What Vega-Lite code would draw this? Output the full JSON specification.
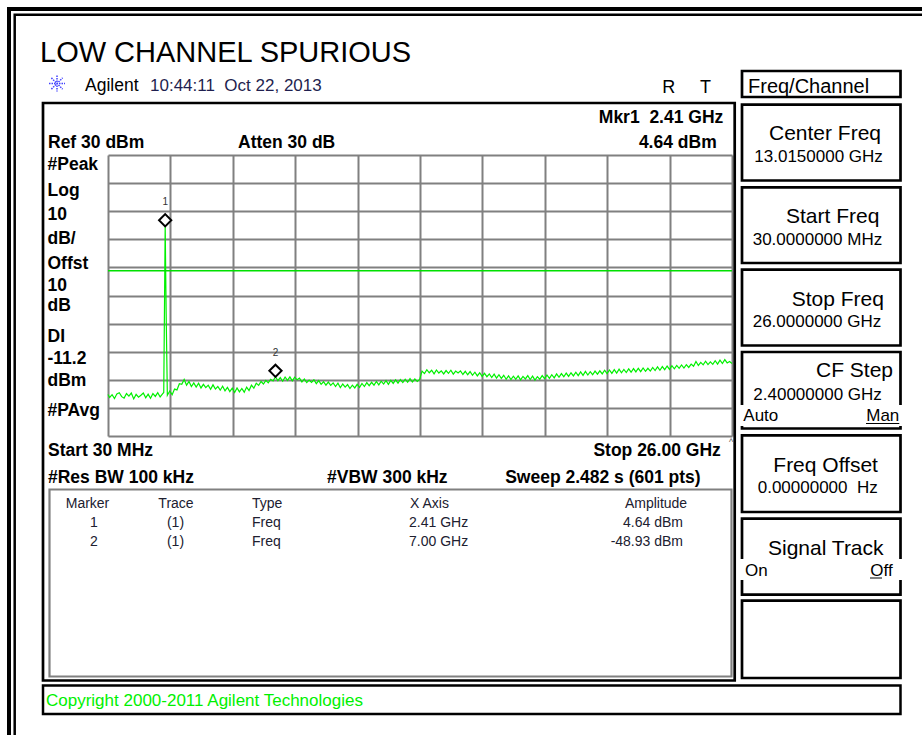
{
  "$schema": "https://vega.github.io/schema/vega-lite/v6.json",
  "width": 624,
  "height": 281,
  "autosize": {"type": "none"},
  "padding": {"left": 108, "top": 155, "right": 190, "bottom": 299},
  "background": "white",
  "config": {
    "font": "Liberation Sans",
    "view": {"stroke": null},
    "text": {"baseline": "alphabetic", "align": "left", "fontSize": 17, "color": "#000000", "font": "Liberation Sans"}
  },
  "datasets": {
    "trace": [
      {"freq_ghz": 0.03, "amp_dbm": -55.2}, {"freq_ghz": 0.1, "amp_dbm": -56.3}, {"freq_ghz": 0.2, "amp_dbm": -55.3}, {"freq_ghz": 0.3, "amp_dbm": -56.7},
      {"freq_ghz": 0.4, "amp_dbm": -55.0}, {"freq_ghz": 0.5, "amp_dbm": -54.6}, {"freq_ghz": 0.6, "amp_dbm": -56.0}, {"freq_ghz": 0.7, "amp_dbm": -56.5},
      {"freq_ghz": 0.8, "amp_dbm": -54.9}, {"freq_ghz": 0.9, "amp_dbm": -55.8}, {"freq_ghz": 1.0, "amp_dbm": -54.7}, {"freq_ghz": 1.1, "amp_dbm": -56.8},
      {"freq_ghz": 1.2, "amp_dbm": -55.2}, {"freq_ghz": 1.3, "amp_dbm": -56.2}, {"freq_ghz": 1.4, "amp_dbm": -55.5}, {"freq_ghz": 1.5, "amp_dbm": -54.7},
      {"freq_ghz": 1.6, "amp_dbm": -56.4}, {"freq_ghz": 1.7, "amp_dbm": -55.1}, {"freq_ghz": 1.8, "amp_dbm": -56.6}, {"freq_ghz": 1.9, "amp_dbm": -54.9},
      {"freq_ghz": 2.0, "amp_dbm": -55.9}, {"freq_ghz": 2.1, "amp_dbm": -54.6}, {"freq_ghz": 2.2, "amp_dbm": -56.1}, {"freq_ghz": 2.3, "amp_dbm": -55.0},
      {"freq_ghz": 2.35, "amp_dbm": -54.5}, {"freq_ghz": 2.41, "amp_dbm": 4.64}, {"freq_ghz": 2.45, "amp_dbm": -26.2}, {"freq_ghz": 2.5, "amp_dbm": -55.5},
      {"freq_ghz": 2.6, "amp_dbm": -54.0}, {"freq_ghz": 2.7, "amp_dbm": -55.3}, {"freq_ghz": 2.8, "amp_dbm": -53.3}, {"freq_ghz": 2.9, "amp_dbm": -53.6},
      {"freq_ghz": 3.0, "amp_dbm": -51.4}, {"freq_ghz": 3.1, "amp_dbm": -51.6}, {"freq_ghz": 3.2, "amp_dbm": -49.9}, {"freq_ghz": 3.3, "amp_dbm": -51.9},
      {"freq_ghz": 3.4, "amp_dbm": -50.6}, {"freq_ghz": 3.5, "amp_dbm": -52.4}, {"freq_ghz": 3.6, "amp_dbm": -51.1}, {"freq_ghz": 3.7, "amp_dbm": -52.6},
      {"freq_ghz": 3.8, "amp_dbm": -51.2}, {"freq_ghz": 3.9, "amp_dbm": -52.9}, {"freq_ghz": 4.0, "amp_dbm": -51.6}, {"freq_ghz": 4.1, "amp_dbm": -52.8},
      {"freq_ghz": 4.2, "amp_dbm": -51.9}, {"freq_ghz": 4.3, "amp_dbm": -53.4}, {"freq_ghz": 4.4, "amp_dbm": -51.8}, {"freq_ghz": 4.5, "amp_dbm": -53.3},
      {"freq_ghz": 4.6, "amp_dbm": -52.4}, {"freq_ghz": 4.7, "amp_dbm": -53.7}, {"freq_ghz": 4.8, "amp_dbm": -52.3}, {"freq_ghz": 4.9, "amp_dbm": -53.9},
      {"freq_ghz": 5.0, "amp_dbm": -52.7}, {"freq_ghz": 5.1, "amp_dbm": -54.2}, {"freq_ghz": 5.2, "amp_dbm": -53.0}, {"freq_ghz": 5.3, "amp_dbm": -54.5},
      {"freq_ghz": 5.4, "amp_dbm": -52.9}, {"freq_ghz": 5.5, "amp_dbm": -54.3}, {"freq_ghz": 5.6, "amp_dbm": -53.1}, {"freq_ghz": 5.7, "amp_dbm": -54.4},
      {"freq_ghz": 5.8, "amp_dbm": -52.6}, {"freq_ghz": 5.9, "amp_dbm": -53.8}, {"freq_ghz": 6.0, "amp_dbm": -51.9}, {"freq_ghz": 6.1, "amp_dbm": -53.0},
      {"freq_ghz": 6.2, "amp_dbm": -51.2}, {"freq_ghz": 6.3, "amp_dbm": -52.0}, {"freq_ghz": 6.4, "amp_dbm": -50.6}, {"freq_ghz": 6.5, "amp_dbm": -51.5},
      {"freq_ghz": 6.6, "amp_dbm": -50.2}, {"freq_ghz": 6.7, "amp_dbm": -51.1}, {"freq_ghz": 6.8, "amp_dbm": -49.8}, {"freq_ghz": 6.9, "amp_dbm": -50.4},
      {"freq_ghz": 7.0, "amp_dbm": -48.93}, {"freq_ghz": 7.1, "amp_dbm": -50.3}, {"freq_ghz": 7.2, "amp_dbm": -49.2}, {"freq_ghz": 7.3, "amp_dbm": -50.5},
      {"freq_ghz": 7.4, "amp_dbm": -49.0}, {"freq_ghz": 7.5, "amp_dbm": -50.2}, {"freq_ghz": 7.6, "amp_dbm": -48.95}, {"freq_ghz": 7.7, "amp_dbm": -50.4},
      {"freq_ghz": 7.8, "amp_dbm": -49.1}, {"freq_ghz": 7.9, "amp_dbm": -50.0}, {"freq_ghz": 8.0, "amp_dbm": -49.4}, {"freq_ghz": 8.1, "amp_dbm": -50.8},
      {"freq_ghz": 8.2, "amp_dbm": -49.7}, {"freq_ghz": 8.3, "amp_dbm": -51.0}, {"freq_ghz": 8.4, "amp_dbm": -50.1}, {"freq_ghz": 8.5, "amp_dbm": -50.9},
      {"freq_ghz": 8.6, "amp_dbm": -50.0}, {"freq_ghz": 8.7, "amp_dbm": -51.4}, {"freq_ghz": 8.8, "amp_dbm": -50.3}, {"freq_ghz": 8.9, "amp_dbm": -51.6},
      {"freq_ghz": 9.0, "amp_dbm": -50.7}, {"freq_ghz": 9.1, "amp_dbm": -51.9}, {"freq_ghz": 9.2, "amp_dbm": -50.8}, {"freq_ghz": 9.3, "amp_dbm": -52.0},
      {"freq_ghz": 9.4, "amp_dbm": -51.1}, {"freq_ghz": 9.5, "amp_dbm": -52.4}, {"freq_ghz": 9.6, "amp_dbm": -51.2}, {"freq_ghz": 9.7, "amp_dbm": -52.8},
      {"freq_ghz": 9.8, "amp_dbm": -51.5}, {"freq_ghz": 9.9, "amp_dbm": -52.6}, {"freq_ghz": 10.0, "amp_dbm": -51.7}, {"freq_ghz": 10.1, "amp_dbm": -53.1},
      {"freq_ghz": 10.2, "amp_dbm": -51.9}, {"freq_ghz": 10.3, "amp_dbm": -52.9}, {"freq_ghz": 10.4, "amp_dbm": -51.6}, {"freq_ghz": 10.5, "amp_dbm": -52.7},
      {"freq_ghz": 10.6, "amp_dbm": -51.3}, {"freq_ghz": 10.7, "amp_dbm": -52.4}, {"freq_ghz": 10.8, "amp_dbm": -51.0}, {"freq_ghz": 10.9, "amp_dbm": -52.1},
      {"freq_ghz": 11.0, "amp_dbm": -50.9}, {"freq_ghz": 11.1, "amp_dbm": -51.9}, {"freq_ghz": 11.2, "amp_dbm": -50.6}, {"freq_ghz": 11.3, "amp_dbm": -51.8},
      {"freq_ghz": 11.4, "amp_dbm": -50.5}, {"freq_ghz": 11.5, "amp_dbm": -51.5}, {"freq_ghz": 11.6, "amp_dbm": -50.3}, {"freq_ghz": 11.7, "amp_dbm": -51.6},
      {"freq_ghz": 11.8, "amp_dbm": -50.2}, {"freq_ghz": 11.9, "amp_dbm": -51.3}, {"freq_ghz": 12.0, "amp_dbm": -50.0}, {"freq_ghz": 12.1, "amp_dbm": -51.2},
      {"freq_ghz": 12.2, "amp_dbm": -49.9}, {"freq_ghz": 12.3, "amp_dbm": -51.0}, {"freq_ghz": 12.4, "amp_dbm": -49.8}, {"freq_ghz": 12.5, "amp_dbm": -50.9},
      {"freq_ghz": 12.6, "amp_dbm": -49.6}, {"freq_ghz": 12.7, "amp_dbm": -50.8}, {"freq_ghz": 12.8, "amp_dbm": -49.7}, {"freq_ghz": 12.9, "amp_dbm": -50.6},
      {"freq_ghz": 13.0, "amp_dbm": -49.9}, {"freq_ghz": 13.1, "amp_dbm": -46.9}, {"freq_ghz": 13.2, "amp_dbm": -47.8}, {"freq_ghz": 13.3, "amp_dbm": -46.4},
      {"freq_ghz": 13.4, "amp_dbm": -47.5}, {"freq_ghz": 13.5, "amp_dbm": -46.6}, {"freq_ghz": 13.6, "amp_dbm": -47.9}, {"freq_ghz": 13.7, "amp_dbm": -46.5},
      {"freq_ghz": 13.8, "amp_dbm": -47.6}, {"freq_ghz": 13.9, "amp_dbm": -46.8}, {"freq_ghz": 14.0, "amp_dbm": -47.9}, {"freq_ghz": 14.1, "amp_dbm": -46.7},
      {"freq_ghz": 14.2, "amp_dbm": -47.7}, {"freq_ghz": 14.3, "amp_dbm": -46.6}, {"freq_ghz": 14.4, "amp_dbm": -48.0}, {"freq_ghz": 14.5, "amp_dbm": -46.9},
      {"freq_ghz": 14.6, "amp_dbm": -47.6}, {"freq_ghz": 14.7, "amp_dbm": -46.8}, {"freq_ghz": 14.8, "amp_dbm": -48.1}, {"freq_ghz": 14.9, "amp_dbm": -47.0},
      {"freq_ghz": 15.0, "amp_dbm": -48.2}, {"freq_ghz": 15.1, "amp_dbm": -47.1}, {"freq_ghz": 15.2, "amp_dbm": -48.4}, {"freq_ghz": 15.3, "amp_dbm": -47.3},
      {"freq_ghz": 15.4, "amp_dbm": -48.6}, {"freq_ghz": 15.5, "amp_dbm": -47.5}, {"freq_ghz": 15.6, "amp_dbm": -48.8}, {"freq_ghz": 15.7, "amp_dbm": -47.7},
      {"freq_ghz": 15.8, "amp_dbm": -48.9}, {"freq_ghz": 15.9, "amp_dbm": -47.9}, {"freq_ghz": 16.0, "amp_dbm": -49.2}, {"freq_ghz": 16.1, "amp_dbm": -48.0},
      {"freq_ghz": 16.2, "amp_dbm": -49.4}, {"freq_ghz": 16.3, "amp_dbm": -48.2}, {"freq_ghz": 16.4, "amp_dbm": -49.5}, {"freq_ghz": 16.5, "amp_dbm": -48.4},
      {"freq_ghz": 16.6, "amp_dbm": -49.8}, {"freq_ghz": 16.7, "amp_dbm": -48.6}, {"freq_ghz": 16.8, "amp_dbm": -49.9}, {"freq_ghz": 16.9, "amp_dbm": -48.7},
      {"freq_ghz": 17.0, "amp_dbm": -49.8}, {"freq_ghz": 17.1, "amp_dbm": -48.6}, {"freq_ghz": 17.2, "amp_dbm": -50.0}, {"freq_ghz": 17.3, "amp_dbm": -48.8},
      {"freq_ghz": 17.4, "amp_dbm": -49.7}, {"freq_ghz": 17.5, "amp_dbm": -48.5}, {"freq_ghz": 17.6, "amp_dbm": -49.9}, {"freq_ghz": 17.7, "amp_dbm": -48.7},
      {"freq_ghz": 17.8, "amp_dbm": -50.1}, {"freq_ghz": 17.9, "amp_dbm": -48.9}, {"freq_ghz": 18.0, "amp_dbm": -49.8}, {"freq_ghz": 18.1, "amp_dbm": -48.5},
      {"freq_ghz": 18.2, "amp_dbm": -49.6}, {"freq_ghz": 18.3, "amp_dbm": -48.3}, {"freq_ghz": 18.4, "amp_dbm": -49.5}, {"freq_ghz": 18.5, "amp_dbm": -48.2},
      {"freq_ghz": 18.6, "amp_dbm": -49.3}, {"freq_ghz": 18.7, "amp_dbm": -47.9}, {"freq_ghz": 18.8, "amp_dbm": -49.1}, {"freq_ghz": 18.9, "amp_dbm": -47.8},
      {"freq_ghz": 19.0, "amp_dbm": -48.9}, {"freq_ghz": 19.1, "amp_dbm": -47.6}, {"freq_ghz": 19.2, "amp_dbm": -48.8}, {"freq_ghz": 19.3, "amp_dbm": -47.5},
      {"freq_ghz": 19.4, "amp_dbm": -48.6}, {"freq_ghz": 19.5, "amp_dbm": -47.3}, {"freq_ghz": 19.6, "amp_dbm": -48.5}, {"freq_ghz": 19.7, "amp_dbm": -47.2},
      {"freq_ghz": 19.8, "amp_dbm": -48.4}, {"freq_ghz": 19.9, "amp_dbm": -47.0}, {"freq_ghz": 20.0, "amp_dbm": -48.3}, {"freq_ghz": 20.1, "amp_dbm": -47.1},
      {"freq_ghz": 20.2, "amp_dbm": -48.2}, {"freq_ghz": 20.3, "amp_dbm": -46.9}, {"freq_ghz": 20.4, "amp_dbm": -48.0}, {"freq_ghz": 20.5, "amp_dbm": -46.8},
      {"freq_ghz": 20.6, "amp_dbm": -47.9}, {"freq_ghz": 20.7, "amp_dbm": -46.6}, {"freq_ghz": 20.8, "amp_dbm": -47.8}, {"freq_ghz": 20.9, "amp_dbm": -46.5},
      {"freq_ghz": 21.0, "amp_dbm": -47.7}, {"freq_ghz": 21.1, "amp_dbm": -46.4}, {"freq_ghz": 21.2, "amp_dbm": -47.6}, {"freq_ghz": 21.3, "amp_dbm": -46.2},
      {"freq_ghz": 21.4, "amp_dbm": -47.5}, {"freq_ghz": 21.5, "amp_dbm": -46.3}, {"freq_ghz": 21.6, "amp_dbm": -47.4}, {"freq_ghz": 21.7, "amp_dbm": -46.1},
      {"freq_ghz": 21.8, "amp_dbm": -47.3}, {"freq_ghz": 21.9, "amp_dbm": -46.0}, {"freq_ghz": 22.0, "amp_dbm": -47.2}, {"freq_ghz": 22.1, "amp_dbm": -45.9},
      {"freq_ghz": 22.2, "amp_dbm": -47.1}, {"freq_ghz": 22.3, "amp_dbm": -45.8}, {"freq_ghz": 22.4, "amp_dbm": -47.0}, {"freq_ghz": 22.5, "amp_dbm": -45.9},
      {"freq_ghz": 22.6, "amp_dbm": -46.9}, {"freq_ghz": 22.7, "amp_dbm": -45.6}, {"freq_ghz": 22.8, "amp_dbm": -46.7}, {"freq_ghz": 22.9, "amp_dbm": -45.4},
      {"freq_ghz": 23.0, "amp_dbm": -46.6}, {"freq_ghz": 23.1, "amp_dbm": -45.3}, {"freq_ghz": 23.2, "amp_dbm": -46.4}, {"freq_ghz": 23.3, "amp_dbm": -45.1},
      {"freq_ghz": 23.4, "amp_dbm": -46.3}, {"freq_ghz": 23.5, "amp_dbm": -45.0}, {"freq_ghz": 23.6, "amp_dbm": -46.1}, {"freq_ghz": 23.7, "amp_dbm": -44.9},
      {"freq_ghz": 23.8, "amp_dbm": -45.9}, {"freq_ghz": 23.9, "amp_dbm": -44.7}, {"freq_ghz": 24.0, "amp_dbm": -45.8}, {"freq_ghz": 24.1, "amp_dbm": -44.6},
      {"freq_ghz": 24.2, "amp_dbm": -45.6}, {"freq_ghz": 24.3, "amp_dbm": -44.4}, {"freq_ghz": 24.4, "amp_dbm": -45.2}, {"freq_ghz": 24.5, "amp_dbm": -43.5},
      {"freq_ghz": 24.6, "amp_dbm": -44.9}, {"freq_ghz": 24.7, "amp_dbm": -43.8}, {"freq_ghz": 24.8, "amp_dbm": -44.7}, {"freq_ghz": 24.9, "amp_dbm": -43.4},
      {"freq_ghz": 25.0, "amp_dbm": -44.6}, {"freq_ghz": 25.1, "amp_dbm": -43.6}, {"freq_ghz": 25.2, "amp_dbm": -44.5}, {"freq_ghz": 25.3, "amp_dbm": -43.2},
      {"freq_ghz": 25.4, "amp_dbm": -44.4}, {"freq_ghz": 25.5, "amp_dbm": -43.0}, {"freq_ghz": 25.6, "amp_dbm": -44.2}, {"freq_ghz": 25.7, "amp_dbm": -42.8},
      {"freq_ghz": 25.8, "amp_dbm": -44.0}, {"freq_ghz": 25.9, "amp_dbm": -43.5}, {"freq_ghz": 26.0, "amp_dbm": -44.2}
    ],
    "markers": [
      {"marker": 1, "trace": "(1)", "type": "Freq", "freq_ghz": 2.41, "amp_dbm": 4.64, "x_axis": "2.41 GHz", "amplitude": "4.64 dBm"},
      {"marker": 2, "trace": "(1)", "type": "Freq", "freq_ghz": 7.0, "amp_dbm": -48.93, "x_axis": "7.00 GHz", "amplitude": "-48.93 dBm"}
    ],
    "display": [{"display_line_dbm": -11.2}]
  },
  "data": {"values": [{}]},
  "layer": [
    {"mark": {"type": "rect", "fill": "transparent", "stroke": "#000000", "strokeWidth": 4}, "encoding": {"x": {"datum": -4.0902}, "x2": {"datum": 34.6567}, "y": {"datum": 81.957}, "y2": {"datum": -185.303}}},
    {"mark": {"type": "rect", "fill": "transparent", "stroke": "#000000", "strokeWidth": 2.5}, "encoding": {"x": {"datum": -3.853}, "x2": {"datum": 34.6567}, "y": {"datum": 79.929}, "y2": {"datum": -185.303}}},
    {"mark": {"type": "rect", "fill": "transparent", "stroke": "#000000", "strokeWidth": 2.7}, "encoding": {"x": {"datum": 26.4162}, "x2": {"datum": 33.0127}, "y": {"datum": 59.893}, "y2": {"datum": 50.641}}},
    {"mark": {"type": "rect", "fill": "transparent", "stroke": "#000000", "strokeWidth": 2.7}, "encoding": {"x": {"datum": -2.6752}, "x2": {"datum": 26.1124}, "y": {"datum": 48.505}, "y2": {"datum": -157.011}}},
    {"mark": {"type": "rect", "fill": "transparent", "stroke": "#808080", "strokeWidth": 2.2}, "encoding": {"x": {"datum": -2.4047}, "x2": {"datum": 25.9792}, "y": {"datum": -89.039}, "y2": {"datum": -155.587}}},
    {"mark": {"type": "rect", "fill": "transparent", "stroke": "#000000", "strokeWidth": 2.7}, "encoding": {"x": {"datum": 26.4162}, "x2": {"datum": 33.0127}, "y": {"datum": 47.9}, "y2": {"datum": 20.925}}},
    {"mark": {"type": "rect", "fill": "transparent", "stroke": "#000000", "strokeWidth": 2.7}, "encoding": {"x": {"datum": 26.4162}, "x2": {"datum": 33.0127}, "y": {"datum": 18.505}, "y2": {"datum": -8.434}}},
    {"mark": {"type": "rect", "fill": "transparent", "stroke": "#000000", "strokeWidth": 2.7}, "encoding": {"x": {"datum": 26.4162}, "x2": {"datum": 33.0127}, "y": {"datum": -10.819}, "y2": {"datum": -37.794}}},
    {"mark": {"type": "rect", "fill": "transparent", "stroke": "#000000", "strokeWidth": 2.7}, "encoding": {"x": {"datum": 26.4162}, "x2": {"datum": 33.0127}, "y": {"datum": -40.107}, "y2": {"datum": -67.331}}},
    {"mark": {"type": "rect", "fill": "transparent", "stroke": "#000000", "strokeWidth": 2.7}, "encoding": {"x": {"datum": 26.4162}, "x2": {"datum": 33.0127}, "y": {"datum": -69.751}, "y2": {"datum": -97.046}}},
    {"mark": {"type": "rect", "fill": "transparent", "stroke": "#000000", "strokeWidth": 2.7}, "encoding": {"x": {"datum": 26.4162}, "x2": {"datum": 33.0127}, "y": {"datum": -99.431}, "y2": {"datum": -126.477}}},
    {"mark": {"type": "rect", "fill": "transparent", "stroke": "#000000", "strokeWidth": 2.7}, "encoding": {"x": {"datum": 26.4162}, "x2": {"datum": 33.0127}, "y": {"datum": -128.612}, "y2": {"datum": -156.121}}},
    {"mark": {"type": "rect", "fill": "transparent", "stroke": "#000000", "strokeWidth": 2.5}, "encoding": {"x": {"datum": -2.6752}, "x2": {"datum": 33.0127}, "y": {"datum": -158.79}, "y2": {"datum": -168.932}}},
    {"mark": {"type": "rect", "fill": "#ffffff"}, "encoding": {"x": {"datum": 26.2913}, "x2": {"datum": 33.1584}, "y": {"datum": -58.968}, "y2": {"datum": -66.441}}},
    {"mark": {"type": "rect", "fill": "#ffffff"}, "encoding": {"x": {"datum": 26.2913}, "x2": {"datum": 33.1584}, "y": {"datum": -113.772}, "y2": {"datum": -121.246}}},
    {
      "data": {"name": "trace"},
      "mark": {"type": "line", "color": "#00f000", "strokeWidth": 1.2},
      "encoding": {
        "x": {"field": "freq_ghz", "type": "quantitative", "scale": {"domain": [0.03, 26], "nice": false, "zero": false},
              "axis": {"values": [0.03, 2.627, 5.224, 7.821, 10.418, 13.015, 15.612, 18.209, 20.806, 23.403, 26], "tickCount": 100, "grid": true, "gridColor": "#808080", "gridWidth": 2, "labels": false, "ticks": false, "domain": false, "title": null}},
        "y": {"field": "amp_dbm", "type": "quantitative", "scale": {"domain": [-70, 30], "nice": false, "zero": false},
              "axis": {
                "values": [30, 20, 10, 0, -10, -20, -30, -40, -50, -60, -70, 24.662, 15.765, 7.224, -1.317, -10.214, -18.043, -25.516, -36.441, -44.128, -51.851, -62.527],
                "tickCount": 100,
                "grid": true, "gridColor": "#808080", "gridWidth": 2,
                "gridOpacity": {"condition": {"test": "datum.value % 10 === 0", "value": 1}, "value": 0},
                "ticks": false, "tickSize": 0, "domain": false, "title": null,
                "labelExpr": "datum.value % 10 === 0 ? '' : datum.value > 20 ? '#Peak' : datum.value > 10 ? 'Log' : datum.value > 5 ? '10' : datum.value > -5 ? 'dB/' : datum.value > -15 ? 'Offst' : datum.value > -22 ? '10' : datum.value > -30 ? 'dB' : datum.value > -40 ? 'DI' : datum.value > -48 ? '-11.2' : datum.value > -56 ? 'dBm' : '#PAvg'",
                "labelAlign": "left", "labelBaseline": "alphabetic", "labelPadding": 61,
                "labelFont": "Liberation Sans", "labelFontSize": 17.5, "labelFontWeight": "bold", "labelColor": "#000000",
                "labelOverlap": false, "labelBound": false, "labelFlush": false
              }}
      }
    },
    {
      "data": {"name": "display"},
      "mark": {"type": "rule", "color": "#00e000", "strokeWidth": 1.5},
      "encoding": {"y": {"field": "display_line_dbm", "type": "quantitative"}}
    },
    {
      "data": {"name": "markers"},
      "mark": {"type": "point", "shape": "diamond", "size": 150, "filled": true, "fill": "#ffffff", "stroke": "#000000", "strokeWidth": 2, "opacity": 1, "yOffset": -6},
      "encoding": {"x": {"field": "freq_ghz", "type": "quantitative"}, "y": {"field": "amp_dbm", "type": "quantitative"}}
    },
    {
      "data": {"name": "markers"},
      "mark": {"type": "text", "fontSize": 10, "align": "center", "baseline": "middle", "yOffset": -24, "color": "#333333"},
      "encoding": {"x": {"field": "freq_ghz", "type": "quantitative"}, "y": {"field": "amp_dbm", "type": "quantitative"}, "text": {"field": "marker", "type": "nominal"}}
    },
    {"mark": {"type": "point", "shape": "M-1,0L1,0M0,-1L0,1M-0.7,-0.7L0.7,0.7M-0.7,0.7L0.7,-0.7", "size": 256, "filled": false, "stroke": "#4040ff", "strokeWidth": 1.5, "strokeDash": [1.5, 1], "opacity": 1}, "encoding": {"x": {"datum": -2.0925}, "y": {"datum": 55.445}}},
    {"mark": {"type": "text", "text": "LOW CHANNEL SPURIOUS", "fontSize": 29}, "encoding": {"x": {"datum": -2.8001}, "y": {"datum": 63.096}}},
    {"mark": {"type": "text", "text": "Agilent", "fontSize": 17.5}, "encoding": {"x": {"datum": -0.9272}, "y": {"datum": 52.883}}},
    {"mark": {"type": "text", "text": "10:44:11\u00a0 Oct 22, 2013", "fontSize": 17, "color": "#1f1f4f"}, "encoding": {"x": {"datum": 1.778}, "y": {"datum": 52.883}}},
    {"mark": {"type": "text", "text": "R", "fontSize": 18}, "encoding": {"x": {"datum": 23.0992}, "y": {"datum": 51.957}}},
    {"mark": {"type": "text", "text": "T", "fontSize": 18}, "encoding": {"x": {"datum": 24.6682}, "y": {"datum": 51.957}}},
    {"mark": {"type": "text", "text": "Freq/Channel", "fontSize": 20}, "encoding": {"x": {"datum": 26.6659}, "y": {"datum": 51.957}}},
    {"mark": {"type": "text", "text": "Mkr1\u00a0 2.41 GHz", "fontSize": 17.5, "fontWeight": "bold", "align": "right"}, "encoding": {"x": {"datum": 25.6379}, "y": {"datum": 41.281}}},
    {"mark": {"type": "text", "text": "4.64 dBm", "fontSize": 17.5, "fontWeight": "bold", "align": "right"}, "encoding": {"x": {"datum": 25.3632}, "y": {"datum": 32.384}}},
    {"mark": {"type": "text", "text": "Ref 30 dBm", "fontSize": 17.5, "fontWeight": "bold"}, "encoding": {"x": {"datum": -2.4671}, "y": {"datum": 32.384}}},
    {"mark": {"type": "text", "text": "Atten 30 dB", "fontSize": 17.5, "fontWeight": "bold"}, "encoding": {"x": {"datum": 5.4404}, "y": {"datum": 32.384}}},
    {"mark": {"type": "text", "text": "Start 30 MHz", "fontSize": 17.5, "fontWeight": "bold"}, "encoding": {"x": {"datum": -2.4671}, "y": {"datum": -77.117}}},
    {"mark": {"type": "text", "text": "Stop 26.00 GHz", "fontSize": 17.5, "fontWeight": "bold", "align": "right"}, "encoding": {"x": {"datum": 25.5339}, "y": {"datum": -77.117}}},
    {"mark": {"type": "text", "text": "#Res BW 100 kHz", "fontSize": 17.5, "fontWeight": "bold"}, "encoding": {"x": {"datum": -2.4671}, "y": {"datum": -86.726}}},
    {"mark": {"type": "text", "text": "#VBW 300 kHz", "fontSize": 17.5, "fontWeight": "bold"}, "encoding": {"x": {"datum": 9.1445}, "y": {"datum": -86.726}}},
    {"mark": {"type": "text", "text": "Sweep 2.482 s (601 pts)", "fontSize": 17.5, "fontWeight": "bold", "align": "right"}, "encoding": {"x": {"datum": 24.6973}, "y": {"datum": -86.726}}},
    {"mark": {"type": "text", "text": "^", "fontSize": 9, "color": "#555555"}, "encoding": {"x": {"datum": 25.8752}, "y": {"datum": -73.203}}},
    {"mark": {"type": "text", "text": "Center Freq", "fontSize": 21}, "encoding": {"x": {"datum": 27.5399}, "y": {"datum": 35.338}}},
    {"mark": {"type": "text", "text": "13.0150000 GHz", "fontSize": 17}, "encoding": {"x": {"datum": 26.9281}, "y": {"datum": 27.616}}},
    {"mark": {"type": "text", "text": "Start Freq", "fontSize": 21}, "encoding": {"x": {"datum": 28.2474}, "y": {"datum": 5.694}}},
    {"mark": {"type": "text", "text": "30.0000000 MHz", "fontSize": 17}, "encoding": {"x": {"datum": 26.8615}, "y": {"datum": -2.028}}},
    {"mark": {"type": "text", "text": "Stop Freq", "fontSize": 21}, "encoding": {"x": {"datum": 28.4846}, "y": {"datum": -23.737}}},
    {"mark": {"type": "text", "text": "26.0000000 GHz", "fontSize": 17}, "encoding": {"x": {"datum": 26.8615}, "y": {"datum": -31.103}}},
    {"mark": {"type": "text", "text": "CF Step", "fontSize": 21}, "encoding": {"x": {"datum": 29.496}, "y": {"datum": -48.897}}},
    {"mark": {"type": "text", "text": "2.40000000 GHz", "fontSize": 17}, "encoding": {"x": {"datum": 26.8865}, "y": {"datum": -57.189}}},
    {"mark": {"type": "text", "text": "Auto", "fontSize": 17}, "encoding": {"x": {"datum": 26.4703}, "y": {"datum": -64.662}}},
    {"mark": {"type": "text", "text": "Man", "fontSize": 17, "align": "right"}, "encoding": {"x": {"datum": 32.9628}, "y": {"datum": -64.662}}},
    {"mark": {"type": "rule", "color": "#000000", "strokeWidth": 1}, "encoding": {"x": {"datum": 31.5769}, "x2": {"datum": 32.9628}, "y": {"datum": -65.552}}},
    {"mark": {"type": "text", "text": "Freq Offset", "fontSize": 21}, "encoding": {"x": {"datum": 27.7188}, "y": {"datum": -82.705}}},
    {"mark": {"type": "text", "text": "0.00000000\u00a0 Hz", "fontSize": 17}, "encoding": {"x": {"datum": 27.0696}, "y": {"datum": -90.392}}},
    {"mark": {"type": "text", "text": "Signal Track", "fontSize": 21}, "encoding": {"x": {"datum": 27.4983}, "y": {"datum": -112.349}}},
    {"mark": {"type": "text", "text": "On", "fontSize": 17}, "encoding": {"x": {"datum": 26.541}, "y": {"datum": -119.715}}},
    {"mark": {"type": "text", "text": "Off", "fontSize": 17, "align": "right"}, "encoding": {"x": {"datum": 32.6881}, "y": {"datum": -119.715}}},
    {"mark": {"type": "rule", "color": "#000000", "strokeWidth": 1}, "encoding": {"x": {"datum": 31.7434}, "x2": {"datum": 32.2428}, "y": {"datum": -120.534}}},
    {"mark": {"type": "text", "text": "Copyright 2000-2011 Agilent Technologies", "fontSize": 17, "color": "#00f000"}, "encoding": {"x": {"datum": -2.5504}, "y": {"datum": -166.085}}},
    {"mark": {"type": "text", "text": "Marker", "fontSize": 14, "align": "center", "color": "#202030"}, "encoding": {"x": {"datum": -0.8232}, "y": {"datum": -95.73}}},
    {"mark": {"type": "text", "text": "Trace", "fontSize": 14, "align": "center", "color": "#202030"}, "encoding": {"x": {"datum": 2.8601}, "y": {"datum": -95.73}}},
    {"mark": {"type": "text", "text": "Type", "fontSize": 14, "color": "#202030"}, "encoding": {"x": {"datum": 6.0231}, "y": {"datum": -95.73}}},
    {"mark": {"type": "text", "text": "X Axis", "fontSize": 14, "color": "#202030"}, "encoding": {"x": {"datum": 12.5988}, "y": {"datum": -95.73}}},
    {"mark": {"type": "text", "text": "Amplitude", "fontSize": 14, "align": "center", "color": "#202030"}, "encoding": {"x": {"datum": 22.837}, "y": {"datum": -95.73}}},
    {
      "data": {"name": "markers"},
      "mark": {"type": "text", "fontSize": 14, "align": "center", "color": "#202030"},
      "encoding": {"x": {"datum": -0.5527}, "y": {"datum": -102.278}, "yOffset": {"field": "marker", "type": "quantitative", "scale": {"domain": [1, 2], "range": [0, 19]}}, "text": {"field": "marker", "type": "nominal"}}
    },
    {
      "data": {"name": "markers"},
      "mark": {"type": "text", "fontSize": 14, "align": "center", "color": "#202030"},
      "encoding": {"x": {"datum": 2.8393}, "y": {"datum": -102.278}, "yOffset": {"field": "marker", "type": "quantitative", "scale": {"domain": [1, 2], "range": [0, 19]}}, "text": {"field": "trace", "type": "nominal"}}
    },
    {
      "data": {"name": "markers"},
      "mark": {"type": "text", "fontSize": 14, "color": "#202030"},
      "encoding": {"x": {"datum": 6.0231}, "y": {"datum": -102.278}, "yOffset": {"field": "marker", "type": "quantitative", "scale": {"domain": [1, 2], "range": [0, 19]}}, "text": {"field": "type", "type": "nominal"}}
    },
    {
      "data": {"name": "markers"},
      "mark": {"type": "text", "fontSize": 14, "color": "#202030"},
      "encoding": {"x": {"datum": 12.5572}, "y": {"datum": -102.278}, "yOffset": {"field": "marker", "type": "quantitative", "scale": {"domain": [1, 2], "range": [0, 19]}}, "text": {"field": "x_axis", "type": "nominal"}}
    },
    {
      "data": {"name": "markers"},
      "mark": {"type": "text", "fontSize": 14, "align": "right", "color": "#202030"},
      "encoding": {"x": {"datum": 23.9607}, "y": {"datum": -102.278}, "yOffset": {"field": "marker", "type": "quantitative", "scale": {"domain": [1, 2], "range": [0, 19]}}, "text": {"field": "amplitude", "type": "nominal"}}
    }
  ]
}
